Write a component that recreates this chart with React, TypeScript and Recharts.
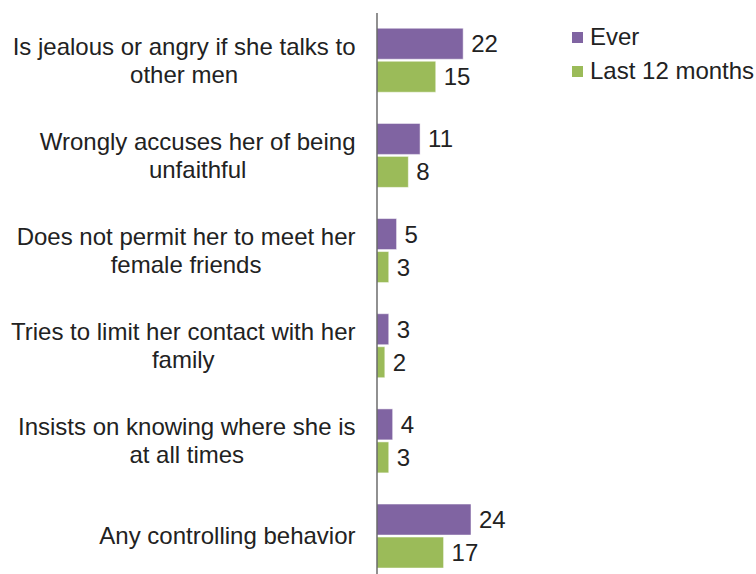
import React from "react";
import { BarChart, Bar, XAxis, YAxis, Legend, LabelList } from "recharts";

const categories = [
  "Is jealous or angry if she talks to\nother men",
  "Wrongly accuses her of being\nunfaithful",
  "Does not permit her to meet her\nfemale friends",
  "Tries to limit her contact with her\nfamily",
  "Insists on knowing where she is\nat all times",
  "Any controlling behavior",
];
const ever = [22, 11, 5, 3, 4, 24];
const last12 = [15, 8, 3, 2, 3, 17];

const data = categories.map((name, i) => ({ name, ever: ever[i], last12: last12[i] }));

const FONT = "'Liberation Sans', Arial, sans-serif";
const FS = 24;
const colors = { ever: "#8064A2", last12: "#9BBB59" };

let ctx: CanvasRenderingContext2D | null = null;
function textWidth(s: string) {
  if (!ctx) ctx = document.createElement("canvas").getContext("2d");
  if (!ctx) return s.length * FS * 0.5;
  ctx.font = `${FS}px ${FONT}`;
  return ctx.measureText(s).width;
}

// block of lines right-aligned to the axis, each line centred inside the block
function CategoryTick(props: any) {
  const { x, y, payload } = props;
  const lines: string[] = String(payload.value).split("\n");
  const lh = 28;
  const start = -((lines.length - 1) * lh) / 2;
  const w = Math.max(...lines.map(textWidth));
  const cx = x - 13.5 - w / 2;
  return (
    <g>
      {lines.map((l, i) => (
        <text key={i} x={cx} y={y + start + i * lh} dy={8} textAnchor="middle" fontSize={FS} fontFamily={FONT} fill="#222">
          {l}
        </text>
      ))}
    </g>
  );
}

function LegendBox(props: any) {
  const items = props.payload || [];
  return (
    <div style={{ fontFamily: FONT, fontSize: FS, color: "#222" }}>
      {items.map((it: any, i: number) => (
        <div key={i} style={{ display: "flex", alignItems: "center", height: 34 }}>
          <span style={{ display: "inline-block", width: 11, height: 11, background: it.color, marginRight: 7 }} />
          <span>{it.value}</span>
        </div>
      ))}
    </div>
  );
}

export default function App() {
  return (
    <div style={{ position: "absolute", left: 0, top: 0, fontFamily: FONT }}>
      <BarChart
        width={756}
        height={584}
        data={data}
        layout="vertical"
        margin={{ top: 13, right: 3, bottom: 0, left: 0 }}
        barCategoryGap="16%"
        barGap={2}
      >
        <XAxis type="number" domain={[0, 96]} hide />
        <YAxis
          type="category"
          dataKey="name"
          width={377}
          tick={<CategoryTick />}
          tickLine={false}
          axisLine={{ stroke: "#555", strokeWidth: 1.3 }}
          interval={0}
        />
        <Legend
          layout="vertical"
          verticalAlign="middle"
          align="center"
          content={<LegendBox />}
          wrapperStyle={{ left: 572, top: 20, width: 190 }}
        />
        <Bar dataKey="ever" name="Ever" fill={colors.ever} stroke="#fff" strokeWidth={0.5} isAnimationActive={false}>
          <LabelList dataKey="ever" position="right" offset={8} fill="#222" fontSize={FS} fontFamily={FONT} />
        </Bar>
        <Bar dataKey="last12" name="Last 12 months" fill={colors.last12} stroke="#fff" strokeWidth={0.5} isAnimationActive={false}>
          <LabelList dataKey="last12" position="right" offset={8} fill="#222" fontSize={FS} fontFamily={FONT} />
        </Bar>
      </BarChart>
    </div>
  );
}
